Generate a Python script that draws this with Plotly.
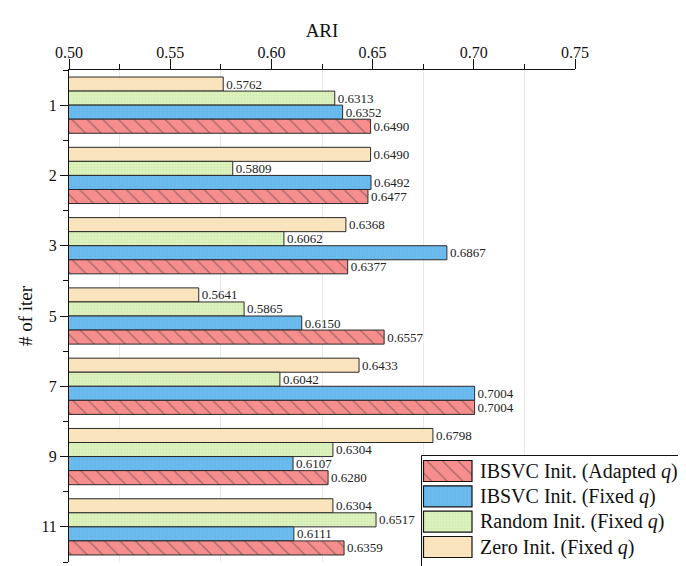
import plotly.graph_objects as go

iters = ["1", "2", "3", "5", "7", "9", "11"]
zero_init = [0.5762, 0.6490, 0.6368, 0.5641, 0.6433, 0.6798, 0.6304]
random_init = [0.6313, 0.5809, 0.6062, 0.5865, 0.6042, 0.6304, 0.6517]
ibsvc_fixed = [0.6352, 0.6492, 0.6867, 0.6150, 0.7004, 0.6107, 0.6111]
ibsvc_adapted = [0.6490, 0.6477, 0.6377, 0.6557, 0.7004, 0.6280, 0.6359]

FONT = "Liberation Serif"
ypos = list(range(len(iters)))

series = [
    ("Zero Init. (Fixed <i>q</i>)", zero_init, "#F9E4BE", dict(shape="")),
    ("Random Init. (Fixed <i>q</i>)", random_init, "#DDF2BE",
     dict(shape=".", fgcolor="#C6E49E", size=3, solidity=0.3)),
    ("IBSVC Init. (Fixed <i>q</i>)", ibsvc_fixed, "#6CBBEE",
     dict(shape="|", fgcolor="#5EACE0", size=4, solidity=0.2)),
    ("IBSVC Init. (Adapted <i>q</i>)", ibsvc_adapted, "#F78E8E",
     dict(shape="\\", fgcolor="#2a2a2a", size=11, solidity=0.1)),
]
offsets = [-0.4, -0.2, 0.0, 0.2]
OUTLINE = dict(color="#2a2a2a", width=1)

fig = go.Figure()
for (name, vals, color, pat), off in zip(series, offsets):
    fig.add_trace(go.Bar(
        y=ypos, x=vals, orientation="h", name=name, showlegend=False,
        width=0.2, offset=off,
        marker=dict(color=color, line=OUTLINE, pattern=pat),
        text=[f"{v:.4f}" for v in vals], textposition="outside",
        constraintext="none", cliponaxis=False,
        textfont=dict(family=FONT, size=13, color="#222"),
        xaxis="x", yaxis="y",
    ))

# ---- hand-drawn legend (page-pixel helper axes) ----
fig.add_trace(go.Bar(
    y=[528], x=[300], base=[421.5], width=[145], orientation="h",
    marker=dict(color="white", line=dict(color="#111", width=1)),
    showlegend=False, hoverinfo="skip", xaxis="x2", yaxis="y2",
))
legend_rows = [471, 496.3, 521.6, 547]
for (name, vals, color, pat), yc in zip(reversed(series), legend_rows):
    fig.add_trace(go.Bar(
        y=[yc], x=[48.5], base=[423.5], width=[21], orientation="h",
        marker=dict(color=color, line=dict(color="#111", width=1.2), pattern=pat),
        showlegend=False, hoverinfo="skip", xaxis="x2", yaxis="y2",
    ))
    fig.add_annotation(
        x=478, y=yc, xref="x2", yref="y2", text=name, showarrow=False,
        xanchor="left", yanchor="middle",
        font=dict(family=FONT, size=20, color="#111"),
    )

fig.update_layout(
    width=678, height=558,
    margin=dict(l=61, r=0, t=62, b=0),
    paper_bgcolor="white", plot_bgcolor="white",
    barmode="overlay",
    font=dict(family=FONT, size=16, color="#111"),
    showlegend=False,
    xaxis=dict(
        domain=[0, 506 / 617], anchor="y",
        side="top", range=[0.5, 0.75], dtick=0.05, tick0=0.5, tickformat=".2f",
        showline=True, linecolor="#111", linewidth=1,
        ticks="outside", ticklen=10, tickcolor="#111", ticklabelstandoff=-5,
        showgrid=False, zeroline=False, automargin=False,
        title=dict(text="ARI", font=dict(size=19), standoff=0),
        tickfont=dict(size=16),
        minor=dict(tick0=0.525, dtick=0.05, ticks="outside", ticklen=5,
                   tickcolor="#111", showgrid=True, gridcolor="#e8e8e8", gridwidth=1),
    ),
    yaxis=dict(
        domain=[4 / 496, 1], anchor="x",
        range=[6.5, -0.5], tickmode="array", tickvals=ypos, ticktext=iters,
        showline=True, linecolor="#111", linewidth=1,
        ticks="outside", ticklen=8, tickcolor="#111",
        showgrid=False, zeroline=False, automargin=False,
        title=dict(text="# of iter", font=dict(size=19), standoff=3),
        tickfont=dict(size=16),
        minor=dict(tickmode="array", tickvals=[i - 0.5 for i in range(8)],
                   ticks="outside", ticklen=5, tickcolor="#111", showgrid=False),
    ),
    xaxis2=dict(domain=[(421 - 69) / 617, 1], range=[421, 686], anchor="y2",
                visible=False, fixedrange=True),
    yaxis2=dict(domain=[0, (566 - 455) / 496], range=[566, 455], anchor="x2",
                visible=False, fixedrange=True),
)

fig.write_html("out.html")
